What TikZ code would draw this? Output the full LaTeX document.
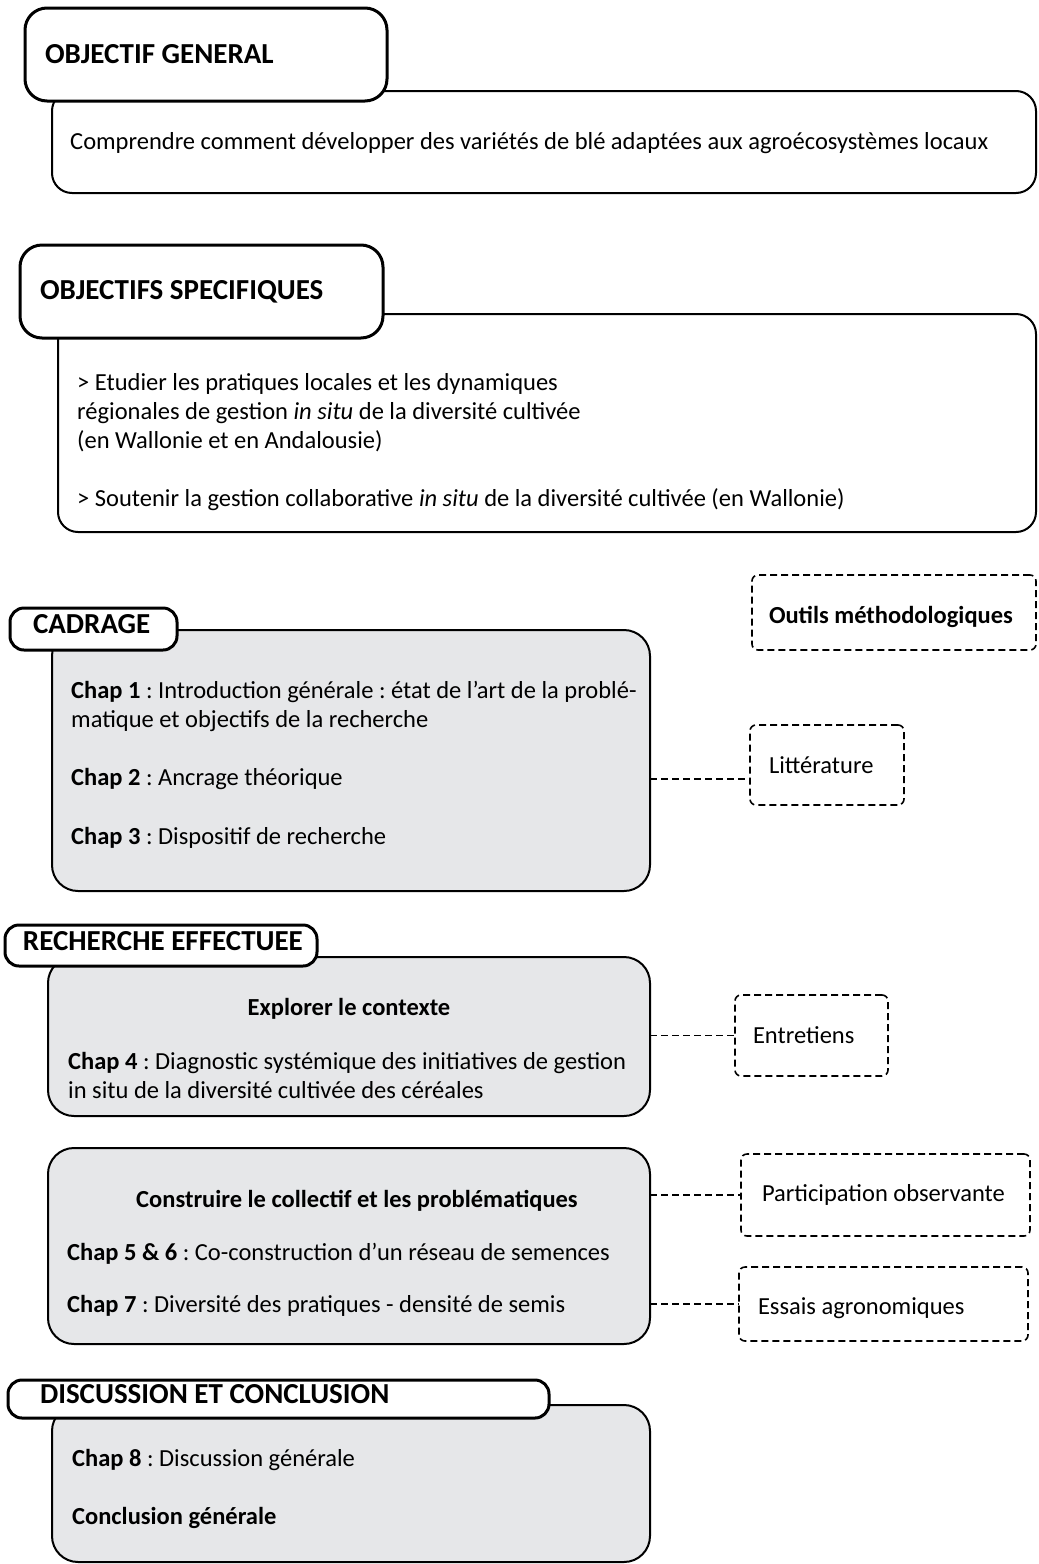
\documentclass[tikz,border=0pt]{standalone}
\usepackage{fontspec}
\setmainfont{Carlito}
\usepackage{xcolor}
\usepackage{tikz}
\usetikzlibrary{shapes.geometric, arrows}
\definecolor{boxgrey}{RGB}{230,231,233}
\tikzstyle{heading} = [rectangle, rounded corners=22pt, draw=black, line width=3pt, fill=white, anchor=north west, inner xsep=20pt, align=flush left, outer sep=0pt, font=\fontsize{29}{34}\selectfont\bfseries]
\tikzstyle{smallheading} = [heading, rounded corners=14pt, inner ysep=0pt, text depth=10pt]
\tikzstyle{whitebox} = [rectangle, rounded corners=20pt, draw=black, line width=2pt, fill=white, anchor=north west, outer sep=0pt]
\tikzstyle{greybox} = [whitebox, rounded corners=26pt, fill=boxgrey]
\tikzstyle{tool} = [rectangle, rounded corners=6pt, draw=black, line width=1.6pt, dash pattern=on 7pt off 4pt, anchor=north west, inner xsep=18pt, align=flush left, outer sep=0pt, font=\fontsize{24.5}{29}\selectfont]
\tikzstyle{txt} = [anchor=west, inner sep=0pt, align=left, font=\fontsize{24.5}{29}\selectfont]
\tikzstyle{line} = [draw, line width=1.6pt, dash pattern=on 7pt off 4pt]
\frenchspacing

\begin{document}
\begin{tikzpicture}[x=1pt, y=-1pt]
	\useasboundingbox (0,0) rectangle (1039,1564);
	
	\node (b1) [whitebox, minimum width=984pt, minimum height=102pt] at (52,91) {};
	\node (h1) [heading, text width=322pt, minimum height=93pt] at (25,8) {OBJECTIF GENERAL};
	\node (c1) [txt] at (70,143) {Comprendre comment développer des variétés de blé adaptées aux agroécosystèmes locaux};
	
	\node (b2) [whitebox, minimum width=978pt, minimum height=218pt] at (58,314) {};
	\node (h2) [heading, text width=323pt, minimum height=93pt] at (20,245) {OBJECTIFS SPECIFIQUES};
	\node (c2) [txt] at (77,413) {> Etudier les pratiques locales et les dynamiques\\régionales de gestion \textit{in situ} de la diversité cultivée\\(en Wallonie et en Andalousie)};
	\node (c3) [txt] at (77,500) {> Soutenir la gestion collaborative \textit{in situ} de la diversité cultivée (en Wallonie)};
	
	\node (b3) [greybox, minimum width=598pt, minimum height=261pt] at (52,630) {};
	\node (h3) [smallheading, inner xsep=23pt, text width=121pt, minimum height=42pt] at (10,608) {CADRAGE};
	\node (c4) [txt] at (71,706) {\textbf{Chap 1} : Introduction générale : état de l’art de la problé-\\matique et objectifs de la recherche};
	\node (c5) [txt] at (71,779) {\textbf{Chap 2} : Ancrage théorique};
	\node (c6) [txt] at (71,838) {\textbf{Chap 3} : Dispositif de recherche};
	
	\node (b4) [greybox, minimum width=602pt, minimum height=159pt] at (48,957) {};
	\node (h4) [smallheading, inner xsep=18pt, text width=276pt, minimum height=41pt] at (5,925) {\mbox{RECHERCHE EFFECTUEE}};
	\node (c7) [txt, anchor=center, font=\fontsize{24.5}{29}\selectfont\bfseries] at (349,1009) {Explorer le contexte};
	\node (c8) [txt] at (68,1075) {\textbf{Chap 4} : Diagnostic systémique des initiatives de gestion\\in situ de la diversité cultivée des céréales};
	
	\node (b5) [greybox, minimum width=602pt, minimum height=196pt] at (48,1148) {};
	\node (c9) [txt, anchor=center, font=\fontsize{24.5}{29}\selectfont\bfseries] at (357,1201) {Construire le collectif et les problématiques};
	\node (c10) [txt] at (67,1254) {\textbf{Chap 5 \& 6} : Co-construction d’un réseau de semences};
	\node (c11) [txt] at (67,1306) {\textbf{Chap 7} : Diversité des pratiques - densité de semis};
	
	\node (b6) [greybox, minimum width=598pt, minimum height=157pt] at (52,1405) {};
	\node (h5) [smallheading, inner xsep=32pt, text width=477pt, minimum height=38pt] at (8,1380) {DISCUSSION ET CONCLUSION};
	\node (c12) [txt] at (72,1460) {\textbf{Chap 8} : Discussion générale};
	\node (c13) [txt] at (72,1518) {\textbf{Conclusion générale}};
	
	\node (m1) [tool, inner xsep=17pt, text width=250pt, minimum height=75pt, text height=26pt, font=\fontsize{24.5}{29}\selectfont\bfseries] at (752,575) {Outils méthodologiques};
	\node (m2) [tool, inner xsep=19pt, text width=116pt, minimum height=80pt] at (750,725) {Littérature};
	\node (m3) [tool, text width=117pt, minimum height=81pt] at (735,995) {Entretiens};
	\node (m4) [tool, inner xsep=21pt, text width=247pt, minimum height=82pt] at (741,1154) {Participation observante};
	\node (m5) [tool, inner xsep=19pt, text width=251pt, minimum height=74pt, text height=26pt] at (739,1267) {Essais agronomiques};
	
	\draw [line] (b3.east |- c5) -- (m2.west |- c5);
	\draw [line] (b4.east |- m3.west) -- (m3.west);
	\draw [line] (b5.east |- m4.west) -- (m4.west);
	\draw [line] (b5.east |- m5.west) -- (m5.west);
	
\end{tikzpicture}
\end{document}
